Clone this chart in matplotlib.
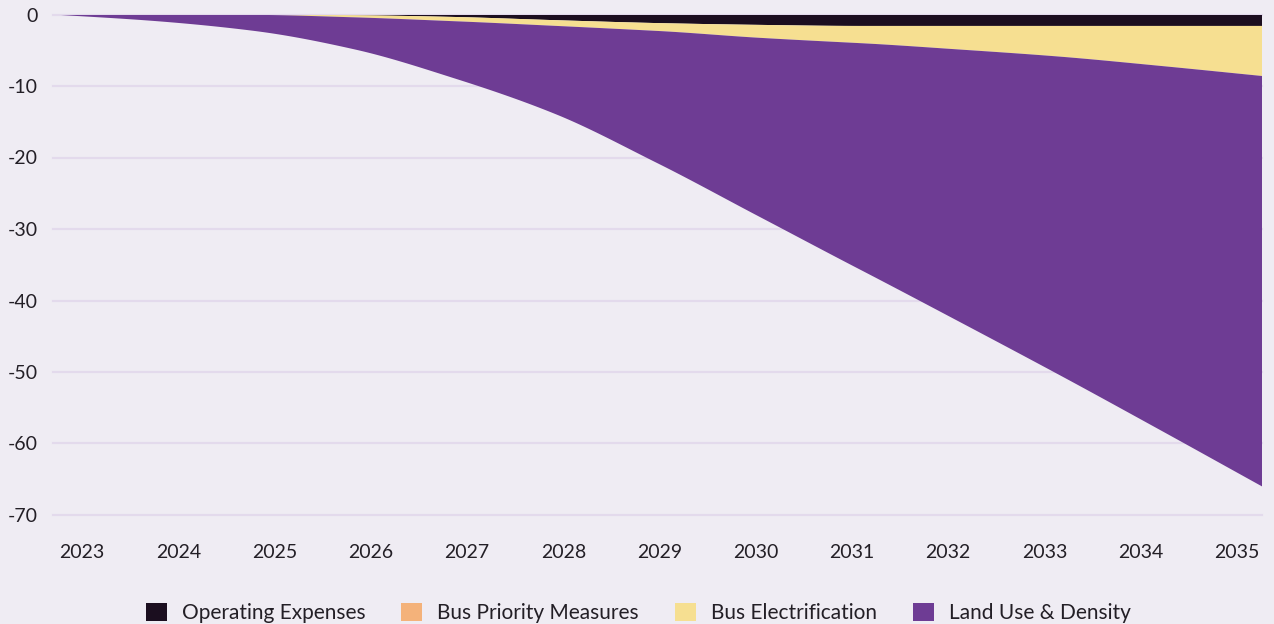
import matplotlib
matplotlib.use('Agg')
import matplotlib.pyplot as plt
import numpy as np

# --- data (annual change) ---
years = [2023, 2024, 2025, 2026, 2027, 2028, 2029, 2030, 2031, 2032, 2033, 2034, 2035]
operating_expenses = [0, 0, 0, -0.1, -0.35, -0.8, -1.2, -1.45, -1.6, -1.6, -1.6, -1.6, -1.6]
bus_priority = [0, 0, 0, 0, 0, 0, 0, 0, 0, 0, 0, 0, 0]
bus_electrification = [0, 0, -0.05, -0.3, -0.6, -0.8, -1.1, -1.8, -2.4, -3.3, -4.3, -5.6, -7.0]
land_use = [0, -0.9, -2.25, -4.5, -8.05, -12.4, -18.5, -24.95, -31.6, -38.1, -44.6, -51.0, -57.4]
series_names = ['Operating Expenses', 'Bus Priority Measures', 'Bus Electrification', 'Land Use & Density']
y_ticks = [0, -10, -20, -30, -40, -50, -60, -70]

colors = ['#1B0E1F', '#F4B27A', '#F6DF91', '#6E3C94']
bg = '#EFECF3'
grid_c = '#E3DAEC'
text_c = '#231F26'


def monotone_curve(x, y, n=40):
    """smooth monotone (Fritsch-Carlson) line through the points, for drawing only"""
    x = np.asarray(x, float)
    y = np.asarray(y, float)
    h = np.diff(x)
    d = np.diff(y) / h
    m = np.zeros_like(y)
    m[0], m[-1] = d[0], d[-1]
    for i in range(1, len(y) - 1):
        if d[i - 1] * d[i] > 0:
            w1 = 2 * h[i] + h[i - 1]
            w2 = h[i] + 2 * h[i - 1]
            m[i] = (w1 + w2) / (w1 / d[i - 1] + w2 / d[i])
    xs, ys = [], []
    for i in range(len(x) - 1):
        t = np.linspace(0, 1, n, endpoint=False)
        h00 = 2 * t**3 - 3 * t**2 + 1
        h10 = t**3 - 2 * t**2 + t
        h01 = -2 * t**3 + 3 * t**2
        h11 = t**3 - t**2
        xs.append(x[i] + t * h[i])
        ys.append(h00 * y[i] + h10 * h[i] * m[i] + h01 * y[i + 1] + h11 * h[i] * m[i + 1])
    xs.append([x[-1]])
    ys.append([y[-1]])
    return np.concatenate(xs), np.concatenate(ys)


plt.rcParams['font.family'] = ['Lato', 'DejaVu Sans']
plt.rcParams['axes.unicode_minus'] = False

fig = plt.figure(figsize=(12.74, 6.24), dpi=100, facecolor=bg)
ax = fig.add_axes([53 / 1274, 1 - 515 / 624, 1209 / 1274, 500.5 / 624])
ax.set_facecolor(bg)

for yv in y_ticks:
    ax.axhline(yv, color=grid_c, lw=1.6, zorder=0, clip_on=False)

smooth = [monotone_curve(years, s) for s in (operating_expenses, bus_priority, bus_electrification, land_use)]
xs = smooth[0][0]
polys = ax.stackplot(xs, *[s[1] for s in smooth],
                     colors=colors, labels=series_names, lw=0, zorder=2)

ax.set_xlim(years[0], years[-1])
ax.set_ylim(-70, 0)

# x labels sit evenly spaced, slightly inside the plot edges
ax.set_xticks(np.linspace(2023.29, 2034.75, len(years)))
ax.set_xticklabels([str(y) for y in years])
ax.set_yticks(y_ticks)
ax.set_yticklabels([str(v) for v in y_ticks])
ax.tick_params(axis='x', length=0, pad=21, labelsize=14, labelcolor=text_c)
ax.tick_params(axis='y', length=0, pad=11, labelsize=14, labelcolor=text_c)
for s in ax.spines.values():
    s.set_visible(False)

fig.legend(handles=polys, labels=series_names, loc='center', bbox_to_anchor=(0.501, 0.018),
           ncol=4, frameon=False, fontsize=15, labelcolor=text_c,
           handlelength=1.0, handleheight=1.0, handletextpad=0.72, columnspacing=1.73,
           borderpad=0, borderaxespad=0)

fig.savefig('out.png', dpi=100, facecolor=bg)
